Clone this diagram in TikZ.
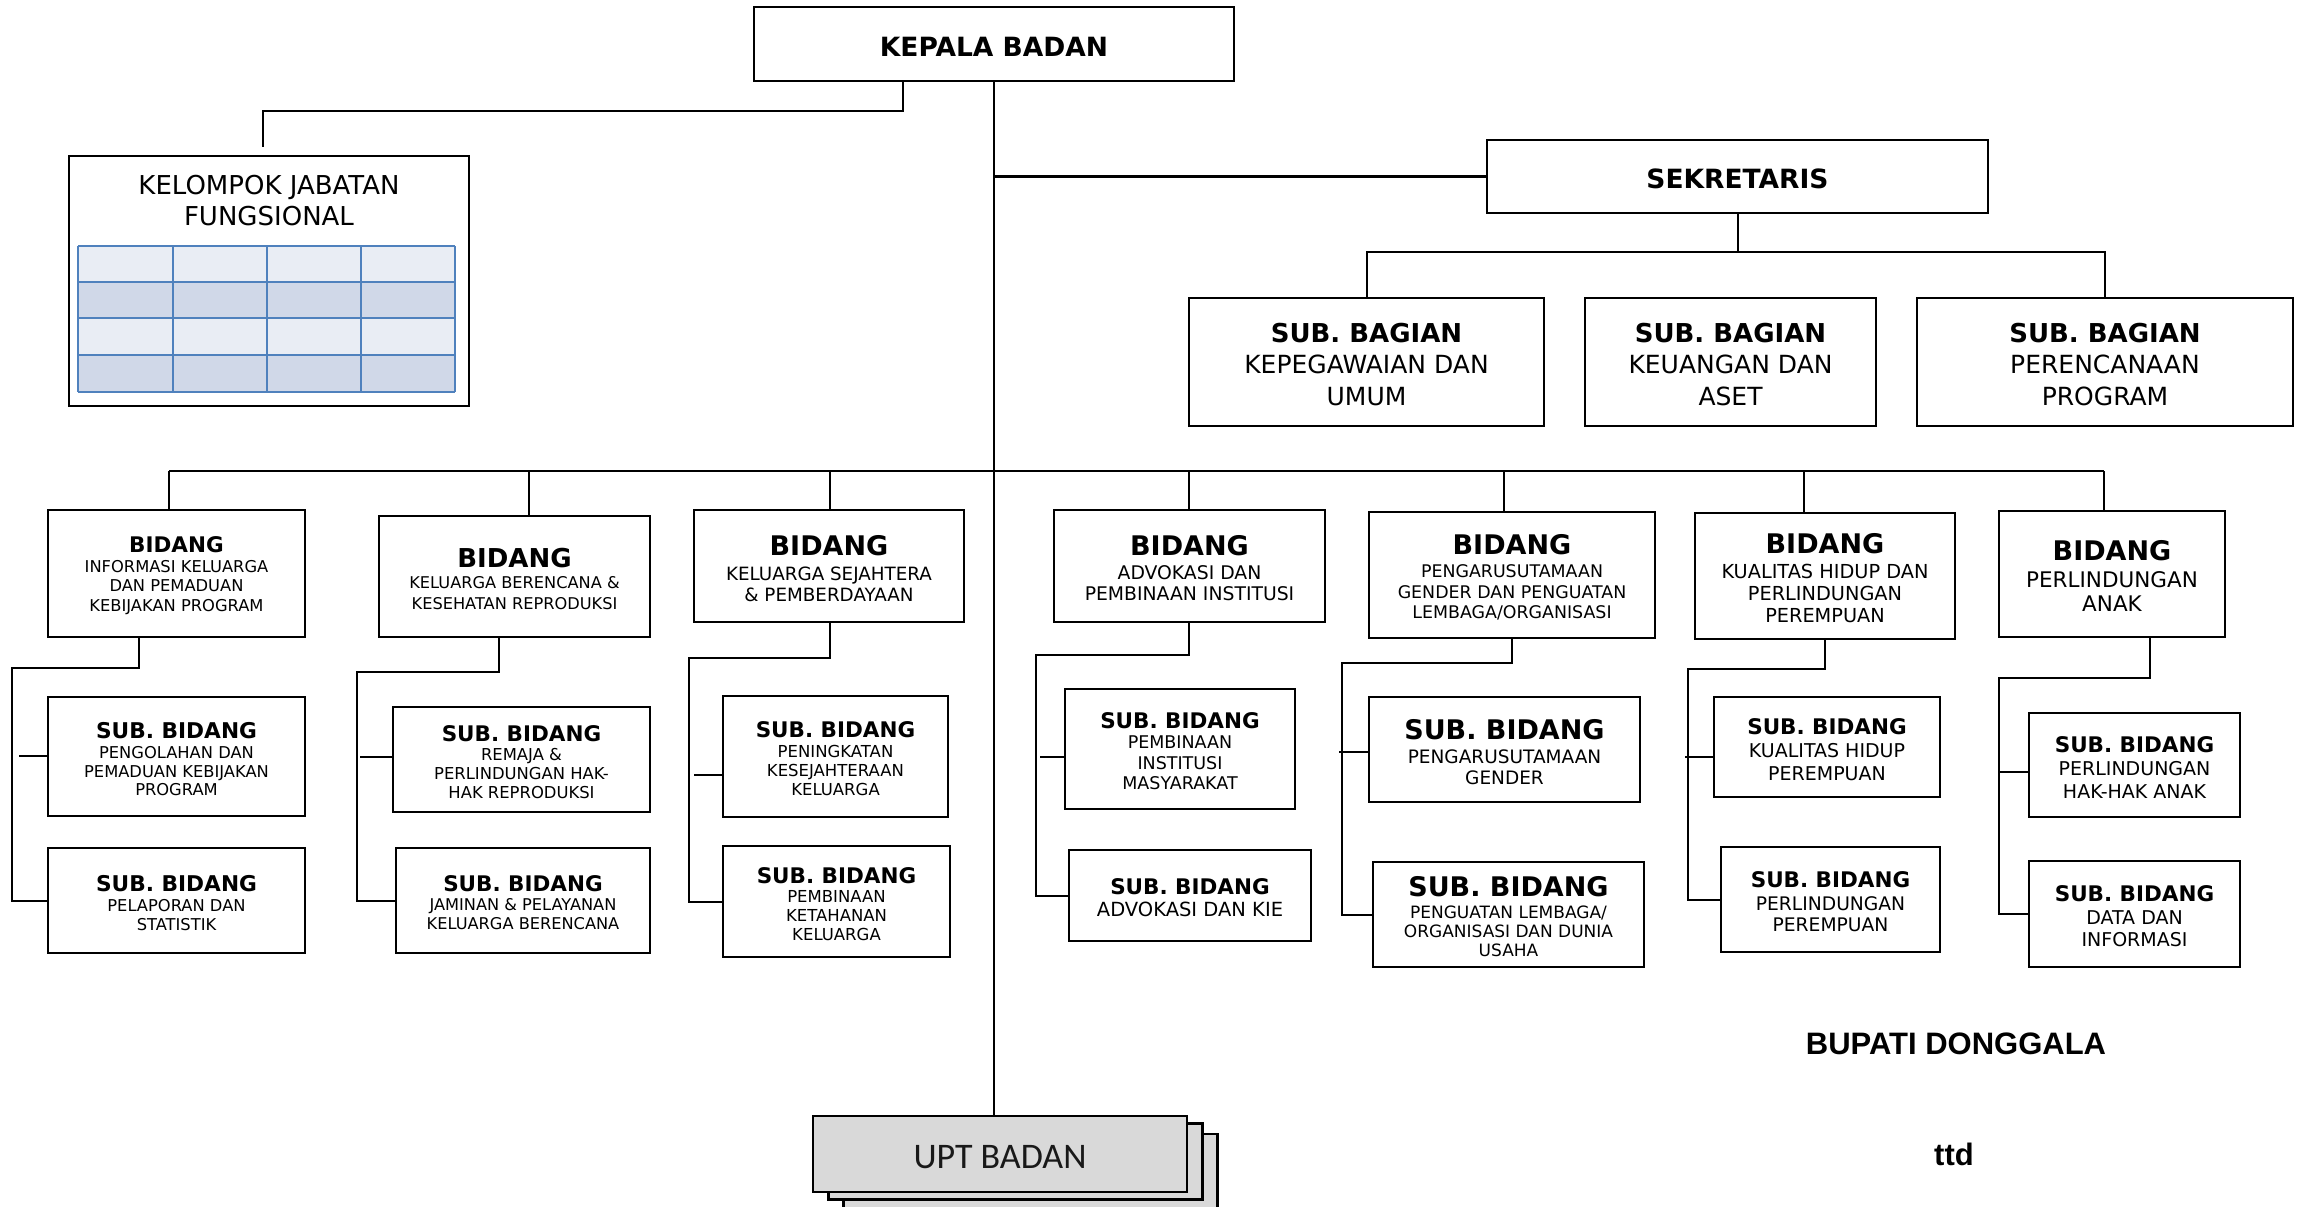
\documentclass[tikz,border=0pt]{standalone}
\usepackage{fontspec}
\setmainfont{DejaVu Sans}
\newfontfamily\arialfont{Liberation Sans}
\newfontfamily\calfont{Carlito}
\newcommand\fs[2]{\fontsize{#1}{#2}\selectfont}
\newcommand\hdr[2]{{\fontsize{#1}{#1}\selectfont\bfseries\rule{0pt}{\dimexpr 0.73em+5pt\relax}#2}}
\definecolor{tblue}{HTML}{4F81BD}
\definecolor{tlight}{HTML}{E9EDF4}
\definecolor{tdark}{HTML}{D0D8E8}
\definecolor{uptgray}{HTML}{D9D9D9}
\begin{document}
\begin{tikzpicture}[x=1pt,y=-1pt,
  box/.style={draw, line width=2.6pt, inner sep=0pt, align=center, fill=white},
  conn/.style={line width=2pt},
  uptbox/.style={draw, line width=2.2pt, fill=uptgray, minimum width=374, minimum height=76, inner sep=0pt}]
\useasboundingbox (0,0) rectangle (2300,1207);
\fill[white] (0,0) rectangle (2300,1207);

% top level
\node[box, minimum width=480, minimum height=74] (kepala) at (994,44) {\hdr{26.5}{KEPALA BADAN}};
\node[box, minimum width=501, minimum height=73] (sek) at (1737.5,176.5) {\hdr{26.5}{SEKRETARIS}};

% sub bagian
\node[box, minimum width=355, minimum height=128, font={\fs{25}{31.7}}] (sb1) at (1366.5,362) {\hdr{26}{SUB. BAGIAN}\\KEPEGAWAIAN DAN\\UMUM};
\node[box, minimum width=291, minimum height=128, font={\fs{25}{31.7}}] (sb2) at (1730.5,362) {\hdr{26}{SUB. BAGIAN}\\KEUANGAN DAN\\ASET};
\node[box, minimum width=376, minimum height=128, font={\fs{25}{31.7}}] (sb3) at (2105,362) {\hdr{26}{SUB. BAGIAN}\\PERENCANAAN\\PROGRAM};

% kelompok jabatan fungsional
\node[box, minimum width=400, minimum height=250] (kjf) at (269,281) {};
\node[align=center, inner sep=0pt, font={\fs{26}{31.7}}] (kjft) at (269,200.5) {KELOMPOK JABATAN\\FUNGSIONAL};
\fill[tlight] (78,246) rectangle (455,282);
\fill[tdark] (78,282) rectangle (455,318);
\fill[tlight] (78,318) rectangle (455,355);
\fill[tdark] (78,355) rectangle (455,392);
\foreach \yy in {246,282,318,355,392} \draw[tblue, line width=2.6pt] (78,\yy) -- (455,\yy);
\foreach \xx in {78,173,267,361,455} \draw[tblue, line width=2pt] (\xx,246) -- (\xx,392);

% bidang
\node[box, minimum width=257, minimum height=127, font={\fs{16.3}{19.5}}] (b1) at (176.5,573.5) {\hdr{21.5}{BIDANG}\\INFORMASI KELUARGA\\DAN PEMADUAN\\KEBIJAKAN PROGRAM};
\node[box, minimum width=271, minimum height=121, font={\fs{16.2}{21}}] (b2) at (514.5,576.5) {\hdr{26}{BIDANG}\\KELUARGA BERENCANA \&\\KESEHATAN REPRODUKSI};
\node[box, minimum width=270, minimum height=112, font={\fs{18.3}{21}}] (b3) at (829,566) {\hdr{27}{BIDANG}\\[4pt]KELUARGA SEJAHTERA\\\& PEMBERDAYAAN};
\node[box, minimum width=271, minimum height=112, font={\fs{18.8}{21}}] (b4) at (1189.5,566) {\hdr{27}{BIDANG}\\[3pt]ADVOKASI DAN\\PEMBINAAN INSTITUSI};
\node[box, minimum width=286, minimum height=126, font={\fs{17.4}{20.5}}] (b5) at (1512,575) {\hdr{27}{BIDANG}\\[2.5pt]PENGARUSUTAMAAN\\GENDER DAN PENGUATAN\\LEMBAGA/ORGANISASI};
\node[box, minimum width=260, minimum height=126, font={\fs{19.3}{22}}] (b6) at (1825,576) {\hdr{27}{BIDANG}\\[2.5pt]KUALITAS HIDUP DAN\\PERLINDUNGAN\\PEREMPUAN};
\node[box, minimum width=226, minimum height=126, font={\fs{21.5}{24}}] (b7) at (2112,574) {\hdr{27}{BIDANG}\\[3pt]PERLINDUNGAN\\ANAK};

% sub bidang
\node[box, minimum width=257, minimum height=119, font={\fs{16.3}{18.5}}] (s11) at (176.5,756.5) {\hdr{21.7}{SUB. BIDANG}\\[2pt]PENGOLAHAN DAN\\PEMADUAN KEBIJAKAN\\PROGRAM};
\node[box, minimum width=257, minimum height=105, font={\fs{16.3}{19}}] (s12) at (176.5,900.5) {\hdr{21.7}{SUB. BIDANG}\\[1.5pt]PELAPORAN DAN\\STATISTIK};
\node[box, minimum width=257, minimum height=105, font={\fs{16.4}{19}}] (s21) at (521.5,759.5) {\hdr{21.5}{SUB. BIDANG}\\REMAJA \&\\PERLINDUNGAN HAK-\\HAK REPRODUKSI};
\node[box, minimum width=254, minimum height=105, font={\fs{16.2}{19}}] (s22) at (523,900.5) {\hdr{21.5}{SUB. BIDANG}\\JAMINAN \& PELAYANAN\\KELUARGA BERENCANA};
\node[box, minimum width=225, minimum height=121, font={\fs{16.5}{19}}] (s31) at (835.5,756.5) {\hdr{21.5}{SUB. BIDANG}\\[1pt]PENINGKATAN\\KESEJAHTERAAN\\KELUARGA};
\node[box, minimum width=227, minimum height=111, font={\fs{16.5}{19}}] (s32) at (836.5,901.5) {\hdr{21.5}{SUB. BIDANG}\\PEMBINAAN\\KETAHANAN\\KELUARGA};
\node[box, minimum width=230, minimum height=120, font={\fs{17.5}{20.5}}] (s41) at (1180,749) {\hdr{21.5}{SUB. BIDANG}\\PEMBINAAN\\INSTITUSI\\MASYARAKAT};
\node[box, minimum width=242, minimum height=91, font={\fs{19.5}{22}}] (s42) at (1190,895.5) {\hdr{21.5}{SUB. BIDANG}\\ADVOKASI DAN KIE};
\node[box, minimum width=271, minimum height=105, font={\fs{18.5}{21}}] (s51) at (1504.5,749.5) {\hdr{27}{SUB. BIDANG}\\[3pt]PENGARUSUTAMAAN\\GENDER};
\node[box, minimum width=271, minimum height=105, font={\fs{17}{19}}] (s52) at (1508.5,914.5) {\hdr{27}{SUB. BIDANG}\\[2.5pt]PENGUATAN LEMBAGA/\\ORGANISASI DAN DUNIA\\USAHA};
\node[box, minimum width=226, minimum height=100, font={\fs{19}{23}}] (s61) at (1827,747) {\hdr{21.5}{SUB. BIDANG}\\KUALITAS HIDUP\\PEREMPUAN};
\node[box, minimum width=219, minimum height=105, font={\fs{18.7}{21}}] (s62) at (1830.5,899.5) {\hdr{21.5}{SUB. BIDANG}\\[2pt]PERLINDUNGAN\\PEREMPUAN};
\node[box, minimum width=211, minimum height=104, font={\fs{19}{23}}] (s71) at (2134.5,765) {\hdr{21.5}{SUB. BIDANG}\\PERLINDUNGAN\\HAK-HAK ANAK};
\node[box, minimum width=211, minimum height=106, font={\fs{19}{22}}] (s72) at (2134.5,914) {\hdr{21.5}{SUB. BIDANG}\\[1pt]DATA DAN\\INFORMASI};

% UPT
\node[uptbox] (upt3) at (1030.5,1172) {};
\node[uptbox] (upt2) at (1015.5,1161.5) {};
\node[uptbox, font={\calfont\fs{36}{36}}, text=black!90] (upt) at (1000,1154) {\rule{0pt}{\dimexpr 0.644em+6pt\relax}UPT BADAN};

% signature
\node[inner sep=0pt, font={\arialfont\fs{31}{31}\bfseries}] (bup) at (1956,1043.5) {BUPATI DONGGALA};
\node[inner sep=0pt, anchor=base, font={\arialfont\fs{31}{31}\bfseries}] (ttd) at (1954,1165) {ttd};

% connectors: top
\coordinate (kjs) at (903,0);
\coordinate (kjc) at (263,111);
\coordinate (kje) at (263,147);
\draw[line width=2.5pt] (kepala.south -| kjs) |- (kjc) -- (kje);
\draw[line width=1.6pt] (kepala.south) -- (kepala.south |- upt.north);
\draw[line width=2.4pt] (kepala.south |- sek.west) -- (sek.west);
\coordinate (sbb) at (0,252);
\draw[line width=2pt] (sek.south) -- (sek.south |- sbb);
\draw[line width=2pt] (sb1.north) -- (sb1.north |- sbb) -- (sb3.north |- sbb) -- (sb3.north);

% bus
\coordinate (d1) at (169,471);
\coordinate (d2) at (529,471);
\coordinate (d3) at (830,471);
\coordinate (d4) at (1189,471);
\coordinate (d5) at (1504,471);
\coordinate (d6) at (1804,471);
\coordinate (d7) at (2104,471);
\draw[conn] (d1) -- (d7);
\draw[conn] (d1) -- (d1 |- b1.north);
\draw[conn] (d2) -- (d2 |- b2.north);
\draw[conn] (d3) -- (d3 |- b3.north);
\draw[conn] (d4) -- (d4 |- b4.north);
\draw[conn] (d5) -- (d5 |- b5.north);
\draw[conn] (d6) -- (d6 |- b6.north);
\draw[conn] (d7) -- (d7 |- b7.north);

% sub bidang connectors
\coordinate (t1) at (139,0);  \coordinate (k1) at (12,668);   \coordinate (q1) at (19,756);
\coordinate (t2) at (499,0);  \coordinate (k2) at (357,672);  \coordinate (q2) at (360,757);
\coordinate (t3) at (830,0);  \coordinate (k3) at (689,658);  \coordinate (q3) at (694,775);
\coordinate (t4) at (1189,0); \coordinate (k4) at (1036,655); \coordinate (q4) at (1040,757);
\coordinate (t5) at (1512,0); \coordinate (k5) at (1342,663); \coordinate (q5) at (1339,752);
\coordinate (t6) at (1825,0); \coordinate (k6) at (1688,669); \coordinate (q6) at (1685,757);
\coordinate (t7) at (2150,0); \coordinate (k7) at (1999,678); \coordinate (q7) at (1999,772);
\foreach \i in {1,...,7} {
  \draw[conn] (b\i.south -| t\i) |- (k\i) |- (s\i2.west);
  \draw[conn] (q\i) -- (q\i -| s\i1.west);
}
\end{tikzpicture}
\end{document}
